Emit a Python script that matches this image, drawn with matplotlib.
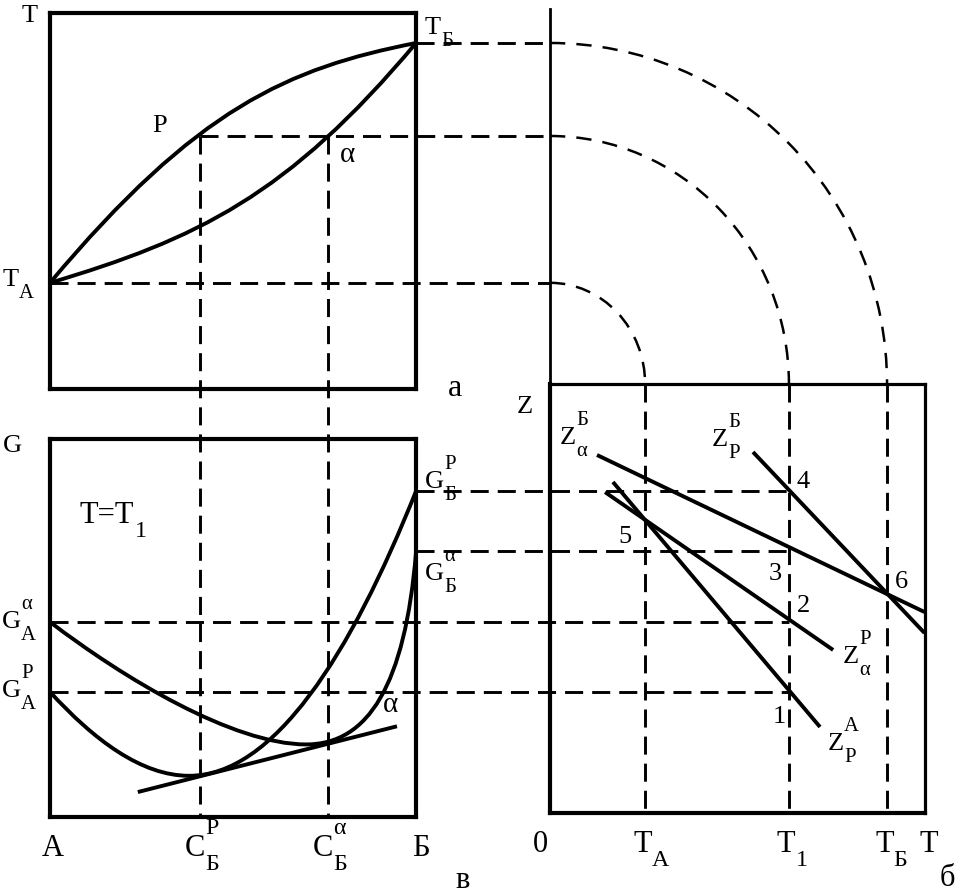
import numpy as np
import matplotlib.pyplot as plt
from matplotlib.patches import Arc, PathPatch
from matplotlib.path import Path

plt.rcParams['font.family'] = 'Liberation Serif'
plt.rcParams['lines.scale_dashes'] = False

# panel а : T - composition, drawn as cubic curves (end points and control points)
liq_c = [0.0, 0.40, 0.65, 1.0]
liq_t = [0.282, 0.746, 0.852, 0.919]
sol_c = [0.0, 0.40, 0.65, 1.0]
sol_t = [0.282, 0.398, 0.513, 0.919]
T_A, T_1, T_B = 0.282, 0.672, 0.919
C_P, C_alpha = 0.410, 0.760

# panel в : G - composition at T = T1 (two cubic pieces each)
gp_c = [0.0, 0.12, 0.25, 0.38, 0.61, 0.82, 1.0]
gp_g = [0.331, 0.204, 0.109, 0.109, 0.109, 0.425, 0.862]
ga_c = [0.0, 0.20, 0.50, 0.70, 0.87, 0.97, 1.0]
ga_g = [0.516, 0.368, 0.192, 0.192, 0.192, 0.35, 0.700]
tan_c = [0.240, 0.948]
tan_g = [0.066, 0.240]
G_A_alpha, G_A_P, G_B_P, G_B_alpha = 0.516, 0.331, 0.862, 0.704

# panel б : Z - T
t_marks = [0.254, 0.638, 0.900]
z_a_b = ([0.1255, 1.0], [0.8345, 0.4685])
z_p_b = ([0.542, 1.0], [0.8415, 0.4196])
z_a_p = ([0.147, 0.756], [0.748, 0.380])
z_p_a = ([0.168, 0.721], [0.7716, 0.2005])

W, H = 958, 895
fig = plt.figure(figsize=(W / 100, H / 100), dpi=100)


def box_axes(l, t, r, b):
    ax = fig.add_axes([l / W, 1 - b / H, (r - l) / W, (b - t) / H])
    ax.set_xlim(0, 1)
    ax.set_ylim(0, 1)
    ax.set_xticks([])
    ax.set_yticks([])
    ax.set_facecolor('none')
    for s in ax.spines.values():
        s.set_linewidth(3)
    return ax


ax_a = box_axes(50, 13.5, 416, 390)
ax_v = box_axes(50, 440, 416, 818)
ax_b = box_axes(550, 385, 924.5, 814)
ax_b.spines['top'].set_linewidth(2.3)
ax_b.spines['right'].set_linewidth(2.3)


def bezier(ax, xs, ys):
    codes = [Path.MOVETO] + [Path.CURVE4] * (len(xs) - 1)
    ax.add_patch(PathPatch(Path(np.column_stack([xs, ys]), codes), fill=False,
                           lw=2.8, edgecolor='black', clip_on=False))


solid = dict(color='black', lw=2.8, clip_on=False, solid_capstyle='butt')
bezier(ax_a, liq_c, liq_t)
bezier(ax_a, sol_c, sol_t)
bezier(ax_v, gp_c, gp_g)
bezier(ax_v, ga_c, ga_g)
ax_v.plot(tan_c, tan_g, **solid)
for xs, zs in [z_a_b, z_p_b, z_a_p, z_p_a]:
    ax_b.plot(xs, zs, **solid)

ov = fig.add_axes([0, 0, 1, 1])
ov.set_xlim(0, W)
ov.set_ylim(H, 0)
ov.axis('off')
ov.patch.set_alpha(0)


def px(ax, x, y):
    d = ax.transData.transform((x, y))
    return ov.transData.inverted().transform(d)


dash = dict(color='black', lw=2.1, linestyle=(0, (13, 6.5)))

x_axis, y_top = px(ax_b, 0, 1)
y_bot = px(ax_b, 0, 0)[1]
# Z axis goes up to the top
ov.plot([x_axis, x_axis], [10, y_top], color='black', lw=2.0)

# T levels carried from panel а to panel б
for T, x0, tb in zip([T_A, T_1, T_B], [0.0, C_P, 1.0], t_marks):
    p = px(ax_a, x0, T)
    ov.plot([p[0], x_axis], [p[1], p[1]], **dash)
    xt = px(ax_b, tb, 0)[0]
    ov.add_patch(Arc((x_axis, y_top), 2 * (xt - x_axis), 2 * (y_top - p[1]),
                     theta1=270, theta2=360, color='black', lw=1.8,
                     linestyle=(0, (11, 8))))
    ov.plot([xt, xt], [y_top, y_bot], **dash)

# compositions of P and alpha at T1
for c in [C_P, C_alpha]:
    p0 = px(ax_a, c, T_1)
    p1 = px(ax_v, c, 0)
    ov.plot([p0[0], p1[0]], [p0[1], p1[1]], **dash)

# G levels carried to T1 in panel б
x_t1 = px(ax_b, t_marks[1], 0)[0]
for g, x0 in [(G_A_alpha, 0.0), (G_A_P, 0.0), (G_B_P, 1.0), (G_B_alpha, 1.0)]:
    p = px(ax_v, x0, g)
    ov.plot([p[0], x_t1], [p[1], p[1]], **dash)

renderer = fig.canvas.get_renderer()


def label(x, y, main, sub=None, sup=None, fs=19, r=0.78):
    t = ov.text(x, y, main, fontsize=fs, va='baseline')
    em = fs * 100 / 72
    xs = x + t.get_window_extent(renderer).width
    if sub:
        ov.text(xs, y + 0.45 * em, sub, fontsize=fs * r, va='baseline')
    if sup:
        ov.text(xs, y - 0.72 * em, sup, fontsize=fs * r, va='baseline')


# panel а
label(22, 22, 'T')
label(425, 34, 'T', 'Б')
label(152, 132, 'P')
label(340, 162, 'α', fs=21)
label(3, 286, 'T', 'A')
label(448, 396, 'а', fs=23)
# panel в
label(3, 452, 'G')
label(80, 523, 'T=T', '1', fs=22)
label(2, 628, 'G', 'A', 'α')
label(2, 697, 'G', 'A', 'P')
label(425, 488, 'G', 'Б', 'P')
label(425, 580, 'G', 'Б', 'α')
label(383, 712, 'α', fs=21)
label(455, 888, 'в', fs=22)
for s, sub, sup, c, dx in [('A', None, None, 0.0, -8), ('C', 'Б', 'P', C_P, -15),
                           ('C', 'Б', 'α', C_alpha, -15), ('Б', None, None, 1.0, -4)]:
    label(px(ax_v, c, 0)[0] + dx, 856, s, sub, sup, fs=22)
# panel б
label(517, 413, 'Z')
label(560, 444, 'Z', 'α', 'Б')
label(712, 446, 'Z', 'P', 'Б')
label(843, 663, 'Z', 'α', 'P')
label(828, 750, 'Z', 'P', 'A')
for s, x, y in [('4', 797, 488), ('5', 618, 543), ('3', 769, 580),
                ('2', 797, 612), ('6', 895, 588), ('1', 773, 723)]:
    label(x, y, s)
label(533, 852, '0', fs=22)
label(920, 852, 'T', fs=22)
label(940, 886, 'б', fs=22)
for sub, tb in zip(['A', '1', 'Б'], t_marks):
    label(px(ax_b, tb, 0)[0] - 12, 852, 'T', sub, fs=22)

fig.savefig('out.png', dpi=100)
